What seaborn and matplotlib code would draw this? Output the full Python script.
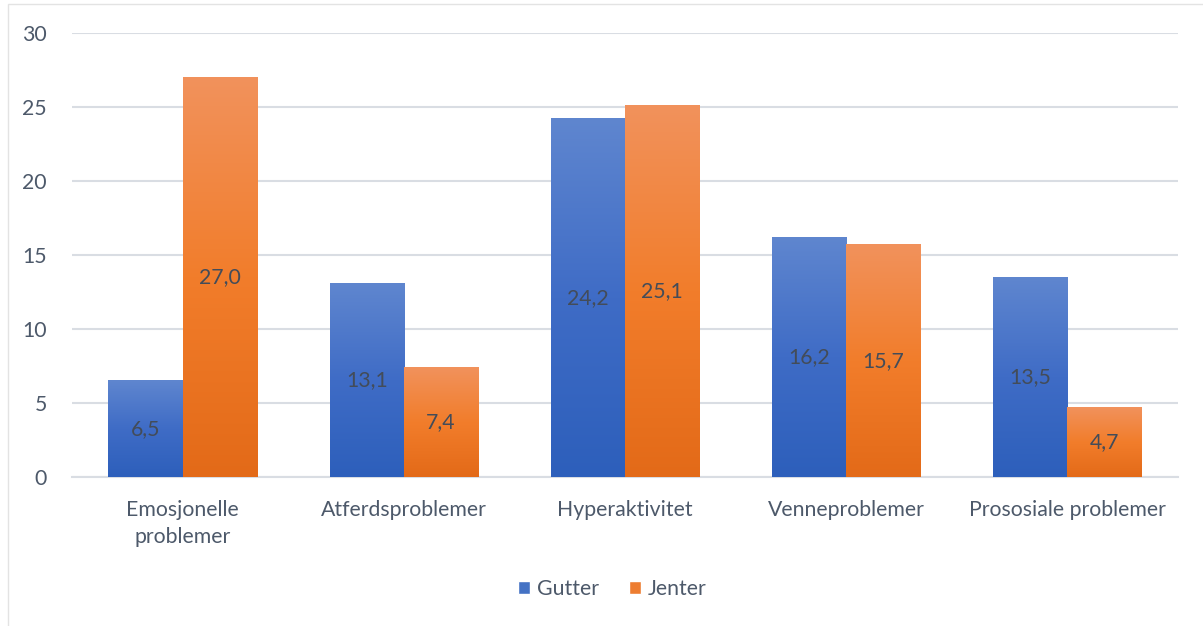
import numpy as np
import pandas as pd
import matplotlib
matplotlib.use("Agg")
import matplotlib.pyplot as plt
from matplotlib.colors import LinearSegmentedColormap
from matplotlib.patches import Rectangle
import seaborn as sns

categories = ["Emosjonelle\nproblemer", "Atferdsproblemer", "Hyperaktivitet",
              "Venneproblemer", "Prososiale problemer"]
gutter = [6.5, 13.1, 24.2, 16.2, 13.5]
jenter = [27.0, 7.4, 25.1, 15.7, 4.7]
series = ["Gutter", "Jenter"]
yticks = [0, 5, 10, 15, 20, 25, 30]

df = pd.DataFrame({"Kategori": categories * 2,
                   "Kjønn": ["Gutter"] * 5 + ["Jenter"] * 5,
                   "Verdi": gutter + jenter})

sns.set_theme(style="white")
plt.rcParams['font.family'] = ['Lato', 'DejaVu Sans']

text_col = "#4d596a"
label_col = "#434c59"
grid_col = "#d9dde3"
fs = 15.3
base_cols = {"Gutter": "#4472c4", "Jenter": "#ed7d31"}
grads = {"Gutter": ["#2d5fbb", "#3f6cc6", "#5f86cf"],
         "Jenter": ["#e36a18", "#f27d2b", "#f1925c"]}

fig = plt.figure(figsize=(12.03, 6.26), dpi=100)
ax = fig.add_axes([72/1203, 1-477/626, (1178-72)/1203, (477-33)/626])

sns.barplot(data=df, x="Kategori", y="Verdi", hue="Kjønn", order=categories,
            hue_order=series, palette=base_cols, width=0.67, gap=0,
            errorbar=None, ax=ax, legend=False, zorder=3)

ax.set_ylim(0, 30)
ax.set_xlim(-0.5, 4.5)
ax.set_yticks(yticks)
ax.set_yticklabels([str(t) for t in yticks])
ax.yaxis.grid(True, color=grid_col, linewidth=1.5, zorder=0)
ax.set_axisbelow(True)
for s in ["top", "right", "left"]:
    ax.spines[s].set_visible(False)
ax.spines["bottom"].set_color(grid_col)
ax.spines["bottom"].set_linewidth(1.5)
ax.spines["bottom"].set_zorder(1)
ax.set_xlabel("")
ax.set_ylabel("")
ax.tick_params(axis="both", length=0, labelsize=fs, labelcolor=text_col)
ax.tick_params(axis="y", pad=18)
ax.tick_params(axis="x", pad=16.5)
for t in ax.get_yticklabels():
    t.set_horizontalalignment("right")
for t in ax.get_xticklabels():
    t.set_linespacing(1.45)

# gradient fill per bar
grad = np.linspace(0, 1, 256).reshape(-1, 1)
for container, name in zip(ax.containers, series):
    cmap = LinearSegmentedColormap.from_list(name, grads[name])
    for bar in container:
        x0, w, h = bar.get_x(), bar.get_width(), bar.get_height()
        bar.set_facecolor("none")
        bar.set_edgecolor("none")
        ax.imshow(grad, extent=(x0, x0 + w, 0, h), origin="lower", cmap=cmap,
                  aspect="auto", zorder=3, interpolation="bicubic")
    labels = [f"{v:.1f}".replace(".", ",") for v in container.datavalues]
    ax.bar_label(container, labels=labels, label_type="center", fontsize=fs,
                 color=label_col, zorder=5)
ax.set_xlim(-0.5, 4.5)
ax.set_ylim(0, 30)

handles = [Rectangle((0, 0), 1, 1, facecolor=base_cols[s]) for s in series]
fig.legend(handles, series, loc="center", bbox_to_anchor=(612/1203, 1-589/626),
           ncol=2, frameon=False, fontsize=fs, labelcolor=text_col,
           handlelength=0.6, handleheight=0.6, handletextpad=0.3, columnspacing=1.4)

# outer frame of the chart area
fig.patches.append(Rectangle((8/1203, -0.05), 1.2, 1 - 4/626 + 0.05,
                             transform=fig.transFigure, fill=False,
                             edgecolor="#e3e3e3", linewidth=1.0))

fig.savefig("out.png", dpi=100)
